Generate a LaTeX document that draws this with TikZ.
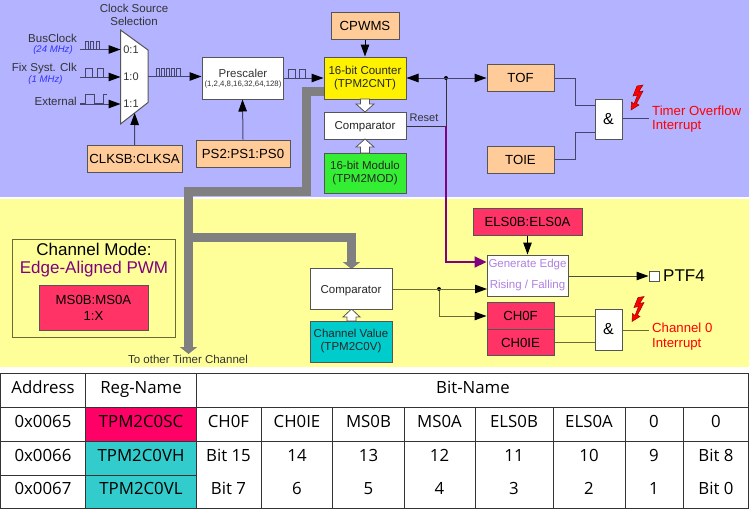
\documentclass[tikz,border=0pt]{standalone}
\usepackage{fontspec}
\setmainfont{Liberation Sans}
\newfontfamily\tblfont{Open Sans}
\usetikzlibrary{arrows.meta,calc}
\newcommand{\fsz}[1]{\fontsize{#1}{#1}\selectfont}
\definecolor{bandblue}{HTML}{B3B3FF}
\definecolor{bandyellow}{HTML}{FFFF99}
\definecolor{boxorange}{HTML}{FFCC99}
\definecolor{boxred}{HTML}{FF3366}
\definecolor{boxteal}{HTML}{00CCCC}
\definecolor{boxgreen}{HTML}{33EE33}
\definecolor{edgeedge}{HTML}{555555}
\definecolor{wireb}{HTML}{45456A}
\definecolor{wirey}{HTML}{6B6B35}
\definecolor{busgray}{HTML}{808080}
\definecolor{purp}{HTML}{800080}
\definecolor{lilac}{HTML}{B080E0}
\definecolor{regred}{HTML}{FF0066}
\definecolor{regteal}{HTML}{33CCCC}
\definecolor{tblline}{HTML}{333333}
\definecolor{freqblue}{HTML}{3333FF}
\tikzset{
  x=1pt,y=-1pt,
  bx/.style={draw=edgeedge,line width=1pt,inner sep=0pt,align=center,text=black,font=\fsz{13.2}},
  smallbx/.style={bx,font=\fsz{11.5},text=black!85},
  cmpbx/.style={smallbx,fill=white,text height=10.2pt,text depth=2pt},
  txt/.style={inner sep=0pt,align=center,font=\fsz{11.5},text=black!80},
  wb/.style={draw=wireb,line width=1pt},
  wy/.style={draw=wirey,line width=1pt},
  tip/.style={-{Triangle[length=12pt,width=8.5pt,black]}},
  dtip/.style={{Triangle[length=12pt,width=8.5pt,black]}-{Triangle[length=12pt,width=8.5pt,black]}},
  bus/.style={draw=busgray,line width=9pt},
  bustip/.style={-{Triangle[length=7pt,width=17pt,busgray]}},
  pulse/.style={draw=wireb,line width=.8pt},
  jdot/.style={circle,fill=black,inner sep=0pt,minimum size=4pt},
  hollow/.style={draw=edgeedge,fill=white,line width=.8pt},
  bolt/.style={draw=red!60!black,fill=red,line width=.5pt,line join=miter},
  tc/.style={inner sep=0pt,anchor=base,yshift=-6pt,font=\tblfont\fsz{16.8},text=black},
  grid/.style={draw=tblline,line width=1pt},
}
\newcommand{\boltpath}{(643,85)--(637,86)--(633,96)--(637.5,95)--(634,104)--(631.5,102)--(631,110)--(639,105)--(636.5,103.5)--(643,91)--(638.5,92)--cycle}
\begin{document}
\begin{tikzpicture}
\useasboundingbox (0,0) rectangle (749,509);
\fill[white] (0,0) rectangle (749,509);
% bands
\fill[bandblue] (0,0) rectangle (749,197);
\fill[bandyellow] (0,199) rectangle (749,367);

% gray bus (under boxes)
\coordinate (busA) at (306.5,91.5);
\coordinate (busB) at (306.5,191);
\coordinate (busC) at (188.5,191);
\coordinate (busD) at (188.5,354);
\coordinate (busJ) at (188.5,237.5);
\coordinate (busK) at (351.5,237.5);
\coordinate (busL) at (351.5,269);
\coordinate (busS) at (325,91.5);

% mux
\coordinate (m1) at (120.5,30);
\coordinate (m2) at (148,50);
\coordinate (m3) at (148,102.5);
\coordinate (m4) at (120.5,124);
\path[draw=edgeedge,fill=white,line width=1pt] (m1)--(m2)--(m3)--(m4)--cycle;
\node[txt,font=\fsz{11}] (s01) at (131,50) {0:1};
\node[txt,font=\fsz{11}] (s10) at (131,77) {1:0};
\node[txt,font=\fsz{11}] (s11) at (131,104) {1:1};

% top labels
\node[txt] (cs1) at (134,8.5) {Clock Source};
\node[txt] (cs2) at (134,21.5) {Selection};
\node[txt,anchor=east] (lbus) at (77,38.5) {BusClock};
\node[txt,text=freqblue,font=\itshape\fsz{9.6}] (lbusf) at (53,50.5) {(24 MHz)};
\node[txt,anchor=east] (lfix) at (77,68.5) {Fix Syst. Clk};
\node[txt,text=freqblue,font=\itshape\fsz{9.6}] (lfixf) at (45.5,80.5) {(1 MHz)};
\node[txt,anchor=east] (lext) at (77,101) {External};

% boxes top
\node[bx,fill=white,font=\fsz{11.5},minimum width=81pt,minimum height=42pt] (pres) at (242.5,78) {};
\node[txt] (prest) at (243,73.5) {Prescaler};
\node[txt,font=\fsz{7.8}] (presn) at (243,84.5) {(1,2,4,8,16,32,64,128)};
\node[bx,fill=boxorange,minimum width=95pt,minimum height=27pt] (clk) at (134.5,159) {CLKSB:CLKSA};
\node[bx,fill=boxorange,minimum width=94pt,minimum height=27pt] (ps) at (243,153.5) {PS2:PS1:PS0};
\node[bx,fill=boxorange,minimum width=68pt,minimum height=27pt] (cpwms) at (365,25.5) {CPWMS};

\draw[bus] (busS) -- (busA) -- (busB) -- (busC) -- (busJ);
\draw[bus,bustip] (busJ) -- (busD);
\draw[bus,bustip] (busJ) -- (busK) -- (busL);

\node[smallbx,fill=yellow,minimum width=82pt,minimum height=42pt] (cnt) at (365,78) {16-bit Counter\\[1.5pt](TPM2CNT)};
\node[cmpbx,minimum width=82pt,minimum height=27pt] (cmp) at (365,125.5) {Comparator};
\node[smallbx,fill=boxgreen,minimum width=82pt,minimum height=40pt] (mod) at (365,173) {16-bit Modulo\\[1.5pt](TPM2MOD)};
\node[bx,fill=boxorange,minimum width=67pt,minimum height=27pt] (tof) at (520.5,78) {TOF};
\node[bx,fill=boxorange,minimum width=67pt,minimum height=27pt] (toie) at (520.5,159.5) {TOIE};
\node[bx,fill=white,font=\fsz{16},minimum width=27pt,minimum height=40pt] (and1) at (608.5,119) {\&};

% hollow arrows
\path[hollow] (360.5,99)--(369.5,99)--(369.5,104)--(374,104)--(365,112)--(356,104)--(360.5,104)--cycle;
\path[hollow] (360.5,153)--(369.5,153)--(369.5,147)--(374,147)--(365,139)--(356,147)--(360.5,147)--cycle;
\path[hollow] (347,321)--(356,321)--(356,317)--(360,317)--(351.5,309)--(343,317)--(347,317)--cycle;

% clock input wires
\coordinate (i1) at (80,49.5);\coordinate (i2) at (80,77);\coordinate (i3) at (80,104);
\draw[wb,tip] (i1) -- (m1|-i1);
\draw[wb,tip] (i2) -- (m1|-i2);
\draw[wb,tip] (i3) -- (m1|-i3);
\draw[pulse] (85,49.5)--(85,41)--(88,41)--(88,49.5)--(90.5,49.5)--(90.5,41)--(93.5,41)--(93.5,49.5)--(96,49.5)--(96,41)--(99,41)--(99,49.5);
\draw[pulse] (85,77)--(85,68)--(92,68)--(92,77)--(97,77)--(97,68)--(103,68)--(103,77);
\draw[pulse] (80,103)--(85,103)--(85,94)--(94,94)--(94,103)--(103,103)--(103,94)--(107,94);
\coordinate (mo) at (148,76.5);
\draw[wb,tip] (mo) -- (pres.west|-mo);
\draw[pulse] (156,76.5)--(156,68)--(159,68)--(159,76.5)--(161,76.5)--(161,68)--(164,68)--(164,76.5)--(166,76.5)--(166,68)--(169,68)--(169,76.5)--(171,76.5)--(171,68)--(174,68)--(174,76.5)--(176,76.5)--(176,68)--(180,68)--(180,76.5);
\draw[wb,tip] (pres.east|-cnt.west) -- (cnt.west);
\draw[pulse] (288,78)--(288,69)--(295,69)--(295,78)--(299,78)--(299,69)--(305,69)--(305,78);
\coordinate (muxb) at (134.7,113);
\draw[wb,tip] (clk.north) -- (muxb);
\draw[wb,tip] (ps.north) -- (pres.south);
\draw[draw=black,line width=1pt,tip] (cpwms.south) -- (cnt.north);

% counter / TOF wires
\node[jdot] (d1) at (446,78) {};
\draw[wb,dtip] (cnt.east) -- (tof.west);
\coordinate (rj) at (446,126);
\draw[draw=black!80,line width=1pt] (cmp.east|-rj) -- (rj) -- (d1);
\node[txt,font=\fsz{11}] (reset) at (424,117.5) {Reset};
\coordinate (ga) at (446,262);

\draw[wb] (tof.east) -- (575,78) -- (575,105.5) -- (and1.west|-0,105.5);
\draw[wb] (toie.east) -- (575,159.5) -- (575,132) -- (and1.west|-0,132);
\coordinate (o1) at (649,118.5);
\draw[wb] (and1.east|-o1) -- (o1);
\path[bolt] \boltpath;
\node[txt,anchor=west,text=red,font=\fsz{13.2}] (ov1) at (652,111) {Timer Overflow};
\node[txt,anchor=west,text=red,font=\fsz{13.2}] (ov2) at (652,126) {Interrupt};

% channel mode
\node[draw=wirey,line width=.8pt,minimum width=162.5pt,minimum height=98pt,inner sep=0pt] (cmode) at (94,288) {};
\node[txt,text=black,font=\fsz{17}] (cmt) at (94,249.5) {Channel Mode:};
\node[txt,text=purp,font=\fsz{17}] (cme) at (94,269) {Edge-Aligned PWM};
\node[bx,fill=boxred,minimum width=109pt,minimum height=45pt] (ms) at (93.5,307.5) {MS0B:MS0A\\[3pt]1:X};
\node[txt] (other) at (188,359.5) {To other Timer Channel};

% channel comparator
\node[cmpbx,minimum width=82pt,minimum height=40.5pt] (cmp2) at (351,289) {Comparator};
\node[smallbx,fill=boxteal,minimum width=82pt,minimum height=41pt] (cv) at (351,341.5) {Channel Value\\[1.5pt](TPM2C0V)};

% edge block
\node[bx,fill=boxred,minimum width=109pt,minimum height=27pt] (els) at (527.5,221.5) {ELS0B:ELS0A};
\node[bx,fill=white,minimum width=81pt,minimum height=41pt] (gen) at (527.5,275.5) {};
\node[txt,text=lilac] (g1) at (527.5,265) {Generate Edge};
\node[txt,text=lilac] (g2) at (527.5,286) {Rising / Falling};
\node[bx,fill=boxred,minimum width=67pt,minimum height=26.5pt] (chf) at (520.5,316) {CH0F};
\node[bx,fill=boxred,minimum width=67pt,minimum height=26.5pt] (chie) at (520.5,342.5) {CH0IE};
\node[bx,fill=white,font=\fsz{16},minimum width=27pt,minimum height=41pt] (and2) at (608.5,329.5) {\&};
\node[bx,fill=white,minimum width=10pt,minimum height=10pt] (ptfb) at (654,276) {};
\node[txt,anchor=west,text=black,font=\fsz{17}] (ptf) at (663,275.5) {PTF4};

\draw[draw=black,line width=1pt,tip] (els.south) -- (gen.north);
\draw[draw=purp,line width=2pt,-{Triangle[length=12pt,width=11pt,purp]}] (rj) -- (ga) -- (gen.west|-ga);
\draw[wy,draw=black!70,tip] (gen.east|-ptfb) -- (ptfb.west);
\node[jdot] (d2) at (439,289) {};
\coordinate (gi) at (487,289);
\coordinate (ci) at (439,316);
\draw[wy,tip] (cmp2.east) -- (gi);
\draw[wy,tip] (d2) -- (ci) -- (chf.west);
\draw[wy] (chf.east) -- (and2.west|-chf.east);
\draw[wy] (chie.east) -- (and2.west|-chie.east);
\coordinate (o2) at (649,330);
\draw[wy] (and2.east|-o2) -- (o2);
\begin{scope}[shift={(1,211.5)}]
\path[bolt] \boltpath;
\end{scope}
\node[txt,anchor=west,text=red,font=\fsz{13.2}] (ci1) at (652,328) {Channel 0};
\node[txt,anchor=west,text=red,font=\fsz{13.2}] (ci2) at (652,344) {Interrupt};

% table
\fill[regred] (85.5,407) rectangle (196,441);
\fill[regteal] (85.5,441) rectangle (196,508);
\draw[grid] (0,373.5) rectangle (748.5,508);
\draw[grid] (0,407)--(748.5,407);
\draw[grid] (0,441)--(748.5,441);
\draw[grid] (0,475)--(196,475);
\foreach \x in {85.5,196}{\draw[grid] (\x,373.5)--(\x,508);}
\foreach \x in {261,332.5,404,475,553,625,683}{\draw[grid] (\x,407)--(\x,508);}
\node[tc] (ta) at (43,387) {Address};
\node[tc] (tb) at (141,387) {Reg-Name};
\node[tc] (tc1) at (473,387) {Bit-Name};
\node[tc] (a1) at (43,421) {0x0065};
\node[tc] (a2) at (43,455) {0x0066};
\node[tc] (a3) at (43,488) {0x0067};
\node[tc] (r1) at (141,421) {TPM2C0SC};
\node[tc] (r2) at (141,455) {TPM2C0VH};
\node[tc] (r3) at (141,488) {TPM2C0VL};
\foreach \n/\x/\p/\q/\r in {1/228.5/CH0F/Bit 15/Bit 7,2/297/CH0IE/14/6,3/368.5/MS0B/13/5,4/439.5/MS0A/12/4,5/514/ELS0B/11/3,6/589/ELS0A/10/2,7/654/0/9/1,8/716/0/Bit 8/Bit 0}{
  \node[tc] (p\n) at (\x,421) {\p};
  \node[tc] (q\n) at (\x,455) {\q};
  \node[tc] (u\n) at (\x,488) {\r};
}
\end{tikzpicture}
\end{document}
